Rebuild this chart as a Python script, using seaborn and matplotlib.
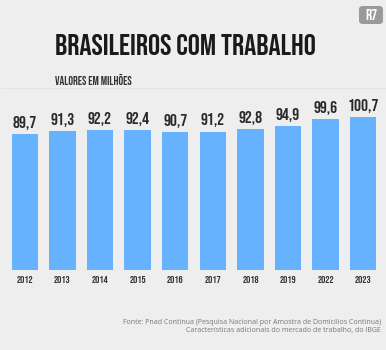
import matplotlib
matplotlib.use("Agg")
import matplotlib.pyplot as plt
import seaborn as sns
import pandas as pd
from matplotlib.patches import FancyBboxPatch

years = ["2012", "2013", "2014", "2015", "2016", "2017", "2018", "2019", "2022", "2023"]
values = [89.7, 91.3, 92.2, 92.4, 90.7, 91.2, 92.8, 94.9, 99.6, 100.7]
value_labels = ["89,7", "91,3", "92,2", "92,4", "90,7", "91,2", "92,8", "94,9", "99,6", "100,7"]
title = "BRASILEIROS COM TRABALHO"
subtitle = "VALORES EM MILHÕES"
source = ("Fonte: Pnad Contínua (Pesquisa Nacional por Amostra de Domicílios Contínua)\n"
          "Características adicionais do mercado de trabalho, do IBGE")

sns.set_theme(style="white")
bebas = ["Bebas Neue", "DejaVu Sans"]
plt.rcParams['font.family'] = bebas

bg = "#eeeeee"
fig = plt.figure(figsize=(3.86, 3.5), dpi=100, facecolor=bg)
W, H = 386, 350
ax = fig.add_axes([6 / W, (H - 270) / H, (382 - 6) / W, (270 - 103) / H])
ax.set_facecolor(bg)

df = pd.DataFrame({"ano": years, "valor": values})
sns.barplot(data=df, x="ano", y="valor", color="#66b2ff", width=0.7, ax=ax,
            saturation=1, edgecolor="none")
ax.set_xlim(-0.5, 9.5)
ax.set_ylim(0, 110)
ax.bar_label(ax.containers[0], labels=value_labels, padding=3,
             fontsize=12.5, color="#2a2a2a", family=bebas)
ax.set_xlabel("")
ax.set_ylabel("")
ax.set_yticks([])
ax.tick_params(axis="x", length=0, pad=4.5, labelsize=7.5, labelcolor="#333333")
for s in ax.spines.values():
    s.set_visible(False)

fig.text(55 / W, 1 - 44.5 / H, title, fontsize=21.8,
         color="#1a1a1a", ha="left", va="center")
fig.text(55 / W, 1 - 79.5 / H, subtitle, fontsize=8.5, color="#333333",
         ha="left", va="center")
fig.add_artist(plt.Line2D([0, 1], [1 - 88 / H, 1 - 88 / H], color="#e2e2e2", lw=0.6))
fig.text(381 / W, 1 - 326.5 / H, source, fontsize=5.05, color="#777777",
         ha="right", va="center", linespacing=1.3, family="Open Sans")

# R7 logo
logo = FancyBboxPatch((359 / W, 1 - 24 / H), 24 / W, 18 / H,
                      boxstyle="round,pad=0,rounding_size=0.01",
                      transform=fig.transFigure, facecolor="#9a9a9a", edgecolor="none")
fig.add_artist(logo)
fig.text(371 / W, 1 - 15 / H, "R7", fontsize=11, color="white",
         ha="center", va="center")

fig.savefig("out.png", dpi=100, facecolor=bg)
